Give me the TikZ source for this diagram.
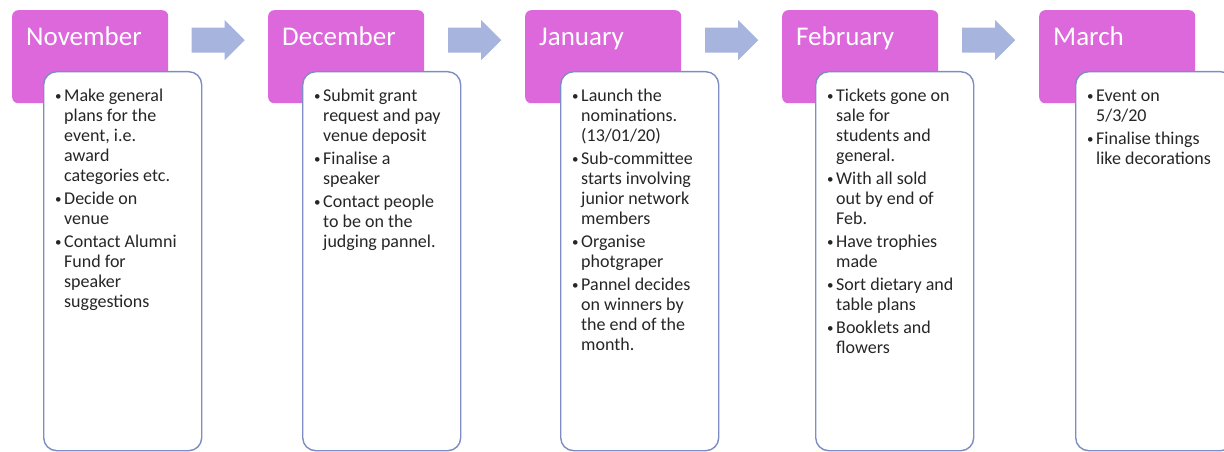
\documentclass[tikz,border=0pt]{standalone}
\usepackage{fontspec}
\setmainfont{Carlito}
\usetikzlibrary{calc}
\definecolor{orchid}{RGB}{220,104,220}
\definecolor{periwinkle}{RGB}{166,180,222}
\definecolor{noteline}{RGB}{126,140,196}
\newcommand{\itm}{\strut\makebox[9pt][l]{\raisebox{1pt}{\fontsize{13}{20}\selectfont\textbullet}}}
\newcommand{\ind}{\strut\hspace*{9pt}}
\begin{document}
\begin{tikzpicture}[x=1pt, y=1pt, line join=round,
	monthbox/.style={fill=orchid, rounded corners=6pt, minimum width=156pt, minimum height=93pt, inner sep=0pt},
	monthlabel/.style={text=white, font=\fontsize{27}{30}\selectfont, inner sep=0pt},
	notebox/.style={draw=noteline, line width=1.4pt, fill=white, rounded corners=13pt, minimum width=158pt, minimum height=379pt, inner sep=0pt},
	notetext/.style={anchor=north west, align=left, inner sep=0pt, text=black!85, font=\fontsize{18}{20}\selectfont},
	blockarrow/.style={fill=periwinkle}]
	\useasboundingbox (0,0) rectangle (1224,-452);
	\foreach \m/\x/\lbl in {nov/12/November, dec/268/December, jan/525/January, feb/782/February, mar/1039/March}{
		\node[monthbox, anchor=north west] (\m) at (\x,-10) {};
		\node[monthlabel, anchor=base west] (\m lbl) at ([shift={(14,-36)}]\m.north west) {\lbl};
	}
	\foreach \a/\b in {nov/dec, dec/jan, jan/feb, feb/mar}{
		\coordinate (gap\a) at ($(\a.east)!.5!(\b.west)+(0,16.5)$);
		\fill[blockarrow, shift={(gap\a)}] (-26.5,12.5) -- (6.5,12.5) -- (6.5,20) -- (26.5,0) -- (6.5,-20) -- (6.5,-12.5) -- (-26.5,-12.5) -- cycle;
	}
	\foreach \m/\x in {nov/43, dec/302, jan/560, feb/815, mar/1075}
		\node[notebox, anchor=north west] (\m box) at (\x,-71) {};
	\node[notetext] (novtxt) at ([shift={(12,-16)}]novbox.north west) {\itm Make general\\ \ind plans for the\\ \ind event, i.e.\\ \ind award\\ \ind categories etc.\\[3pt]
		\itm Decide on\\ \ind venue\\[3pt]
		\itm Contact Alumni\\ \ind Fund for\\ \ind speaker\\ \ind suggestions};
	\node[notetext] (dectxt) at ([shift={(12,-16)}]decbox.north west) {\itm Submit grant\\ \ind request and pay\\ \ind venue deposit\\[3pt]
		\itm Finalise a\\ \ind speaker\\[3pt]
		\itm Contact people\\ \ind to be on the\\ \ind judging pannel.};
	\node[notetext] (jantxt) at ([shift={(12,-16)}]janbox.north west) {\itm Launch the\\ \ind nominations.\\ \ind (13/01/20)\\[3pt]
		\itm Sub-committee\\ \ind starts involving\\ \ind junior network\\ \ind members\\[3pt]
		\itm Organise\\ \ind photgraper\\[3pt]
		\itm Pannel decides\\ \ind on winners by\\ \ind the end of the\\ \ind month.};
	\node[notetext] (febtxt) at ([shift={(12,-16)}]febbox.north west) {\itm Tickets gone on\\ \ind sale for\\ \ind students and\\ \ind general.\\[3pt]
		\itm With all sold\\ \ind out by end of\\ \ind Feb.\\[3pt]
		\itm Have trophies\\ \ind made\\[3pt]
		\itm Sort dietary and\\ \ind table plans\\[3pt]
		\itm Booklets and\\ \ind flowers};
	\node[notetext] (martxt) at ([shift={(12,-16)}]marbox.north west) {\itm Event on\\ \ind 5/3/20\\[3pt]
		\itm Finalise things\\ \ind like decorations};
\end{tikzpicture}
\end{document}
